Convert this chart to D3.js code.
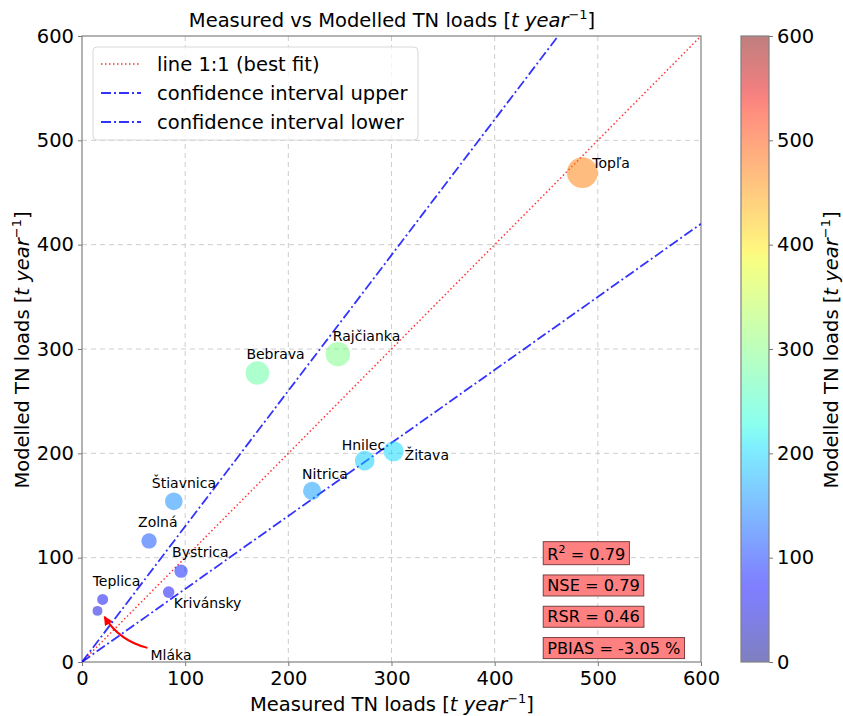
<!DOCTYPE html>
<html><head><meta charset="utf-8">
<script src="https://cdn.jsdelivr.net/npm/d3@7"></script>
<style>body{margin:0;background:#fff} text{font-family:"DejaVu Sans",sans-serif;fill:#000}</style>
</head><body><svg id="c" width="843" height="716"></svg>
<script>
const stations = ["Topľa","Rajčianka","Bebrava","Hnilec","Žitava","Nitrica","Štiavnica","Zolná","Bystrica","Krivánsky","Teplica","Mláka"];
const measured = [485,248,170,274,302,223,89,65,96,84,20,15];
const modelled = [469,295,277,193,202,164,154,116,87,67,60,49];
const axisTicks = [0,100,200,300,400,500,600];
const statNames = ["R","NSE","RSR","PBIAS"];
const statValues = ["0.79","0.79","0.46","-3.05 %"];
const statY = [100,70,40,10];
const legendLabels = ["line 1:1 (best fit)","confidence interval upper","confidence interval lower"];
const lineSlopes = [1, 1.3, 0.7];

// label offsets in px (style)
const labelOffsets = {"Topľa":[10,-5],"Rajčianka":[-5,-13],"Bebrava":[-11,-14],"Hnilec":[-23,-11],"Žitava":[11,9],"Nitrica":[-10,-12],"Štiavnica":[-22,-13],"Zolná":[-11,-14],"Bystrica":[-9,-14],"Krivánsky":[5,16],"Teplica":[-10,-13],"Mláka":[53,49]};

const svg = d3.select("#c");
const L=82,R=701,T=36,B=662;
const x = d3.scaleLinear().domain([0,600]).range([L,R]);
const y = d3.scaleLinear().domain([0,600]).range([B,T]);

// jet colormap
const jr = d3.scaleLinear().domain([0,0.35,0.66,0.89,1]).range([0,0,1,1,0.5]).clamp(true);
const jg = d3.scaleLinear().domain([0,0.125,0.375,0.64,0.91,1]).range([0,0,1,1,0,0]).clamp(true);
const jb = d3.scaleLinear().domain([0,0.11,0.34,0.65,1]).range([0.5,1,1,0,0]).clamp(true);
const jet = t => d3.rgb(jr(t)*255, jg(t)*255, jb(t)*255).toString();
const cnorm = d3.scaleLinear().domain([0,600]).range([0,1]);

const defs = svg.append("defs");
defs.append("clipPath").attr("id","clip").append("rect").attr("x",L).attr("y",T).attr("width",R-L).attr("height",B-T);
const grad = defs.append("linearGradient").attr("id","jetg").attr("x1",0).attr("y1",1).attr("x2",0).attr("y2",0);
d3.range(0,1.0001,0.02).forEach(t=>grad.append("stop").attr("offset",t).attr("stop-color",jet(t)));
defs.append("marker").attr("id","arr").attr("viewBox","0 0 10 10").attr("refX",9).attr("refY",5)
  .attr("markerWidth",9).attr("markerHeight",9).attr("orient","auto-start-reverse").attr("markerUnits","userSpaceOnUse")
  .append("path").attr("d","M0,0 L10,5 L0,10 z").attr("fill","red");

// grid
const grid = svg.append("g").attr("stroke","#c8c8c8").attr("stroke-width",0.9).attr("stroke-dasharray","5,4");
axisTicks.slice(1,-1).forEach(v=>{
  grid.append("line").attr("x1",x(v)).attr("x2",x(v)).attr("y1",T).attr("y2",B);
  grid.append("line").attr("y1",y(v)).attr("y2",y(v)).attr("x1",L).attr("x2",R);
});

// axes
const xa = svg.append("g").attr("transform",`translate(0,${B})`).call(d3.axisBottom(x).tickValues(axisTicks).tickSize(4).tickPadding(5));
const ya = svg.append("g").attr("transform",`translate(${L},0)`).call(d3.axisLeft(y).tickValues(axisTicks).tickSize(4).tickPadding(4));
[xa,ya].forEach(a=>{a.select(".domain").remove();a.selectAll("line").attr("stroke","#777");
  a.selectAll("text").style("font-size","19.5px").style("font-family","DejaVu Sans");});
svg.append("rect").attr("x",L).attr("y",T).attr("width",R-L).attr("height",B-T).attr("fill","none").attr("stroke","#808080").attr("stroke-width",1.2);

// lines
const plot = svg.append("g").attr("clip-path","url(#clip)");
const lineStyles = [{c:"red",d:"1.5,2.5",w:1.5,o:0.8},{c:"blue",d:"10,3,2,3",w:1.8,o:0.8},{c:"blue",d:"10,3,2,3",w:1.8,o:0.8}];
lineSlopes.forEach((s,i)=>{
  plot.append("line").attr("x1",x(0)).attr("y1",y(0)).attr("x2",x(600)).attr("y2",y(600*s))
    .attr("stroke",lineStyles[i].c).attr("stroke-opacity",lineStyles[i].o).attr("stroke-width",lineStyles[i].w).attr("stroke-dasharray",lineStyles[i].d);
});

// points
const data = stations.map((s,i)=>({s,m:measured[i],v:modelled[i]}));
plot.selectAll("circle.pt").data(data).join("circle").attr("class","pt")
  .attr("cx",d=>x(d.m)).attr("cy",d=>y(d.v)).attr("r",d=>Math.sqrt(d.v)*0.71)
  .attr("fill",d=>jet(cnorm(d.v))).attr("fill-opacity",0.5);

// labels
svg.selectAll("text.lab").data(data).join("text").attr("class","lab")
  .attr("x",d=>x(d.m)+labelOffsets[d.s][0]).attr("y",d=>y(d.v)+labelOffsets[d.s][1])
  .style("font-size","14px").text(d=>d.s);

// arrow for Mláka
const mk = data.find(d=>d.s==="Mláka");
const mx=x(mk.m), my=y(mk.v);
const sx=mx+50, sy=my+37, ex=mx+7, ey=my+6;
svg.append("path").attr("d",`M${sx},${sy} Q${mx+22},${my+30} ${ex},${ey}`)
  .attr("fill","none").attr("stroke","red").attr("stroke-width",2).attr("marker-end","url(#arr)");

// legend
const lg = svg.append("g");
lg.append("rect").attr("x",93).attr("y",47).attr("width",325).attr("height",93).attr("rx",4)
  .attr("fill","white").attr("fill-opacity",0.8).attr("stroke","#d8d8d8");
legendLabels.forEach((t,i)=>{
  const yy = 64+i*29;
  lg.append("line").attr("x1",101).attr("x2",141).attr("y1",yy).attr("y2",yy)
    .attr("stroke",lineStyles[i].c).attr("stroke-opacity",lineStyles[i].o).attr("stroke-width",lineStyles[i].w).attr("stroke-dasharray",lineStyles[i].d);
  lg.append("text").attr("x",157).attr("y",yy+7).style("font-size","19.5px").text(t);
});

// stats boxes
statNames.forEach((n,i)=>{
  const g = svg.append("g");
  const t = g.append("text").attr("x",x(450)+1).attr("y",y(statY[i])+2).style("font-size","16.2px");
  if(n==="R"){
    t.append("tspan").text("R");
    t.append("tspan").attr("dy",-7).style("font-size","11px").text("2");
    t.append("tspan").attr("dy",7).text(" = "+statValues[i]);
  } else t.text(n+" = "+statValues[i]);
  const bb = t.node().getBBox();
  g.insert("rect","text").attr("x",bb.x-4).attr("y",bb.y-1).attr("width",bb.width+8).attr("height",bb.height+2)
    .attr("fill","#ff8080").attr("stroke","#7a4040").attr("stroke-width",1);
});

// title and axis labels
function labelText(sel, pre){
  sel.append("tspan").text(pre+" [");
  sel.append("tspan").style("font-style","italic").text("t year");
  sel.append("tspan").attr("dy",-8).style("font-size","13px").text("−1");
  sel.append("tspan").attr("dy",8).text("]");
}
labelText(svg.append("text").attr("x",392).attr("y",27).attr("text-anchor","middle").style("font-size","19.5px"),"Measured vs Modelled TN loads");
labelText(svg.append("text").attr("x",392).attr("y",711).attr("text-anchor","middle").style("font-size","19.5px"),"Measured TN loads");
labelText(svg.append("text").attr("transform","translate(29,350) rotate(-90)").attr("text-anchor","middle").style("font-size","19.5px"),"Modelled TN loads");

// colorbar
const CL=741,CW=28;
const cy = d3.scaleLinear().domain([0,600]).range([B,T]);
svg.append("rect").attr("x",CL).attr("y",T).attr("width",CW).attr("height",B-T).attr("fill","url(#jetg)").attr("fill-opacity",0.5);
svg.append("rect").attr("x",CL).attr("y",T).attr("width",CW).attr("height",B-T).attr("fill","none").attr("stroke","#808080").attr("stroke-width",1.2);
const ca = svg.append("g").attr("transform",`translate(${CL+CW},0)`).call(d3.axisRight(cy).tickValues(axisTicks).tickSize(4).tickPadding(4));
ca.select(".domain").remove(); ca.selectAll("line").attr("stroke","#777");
ca.selectAll("text").style("font-size","19.5px").style("font-family","DejaVu Sans");
labelText(svg.append("text").attr("transform","translate(838,350) rotate(-90)").attr("text-anchor","middle").style("font-size","19.5px"),"Modelled TN loads");
</script></body></html>
